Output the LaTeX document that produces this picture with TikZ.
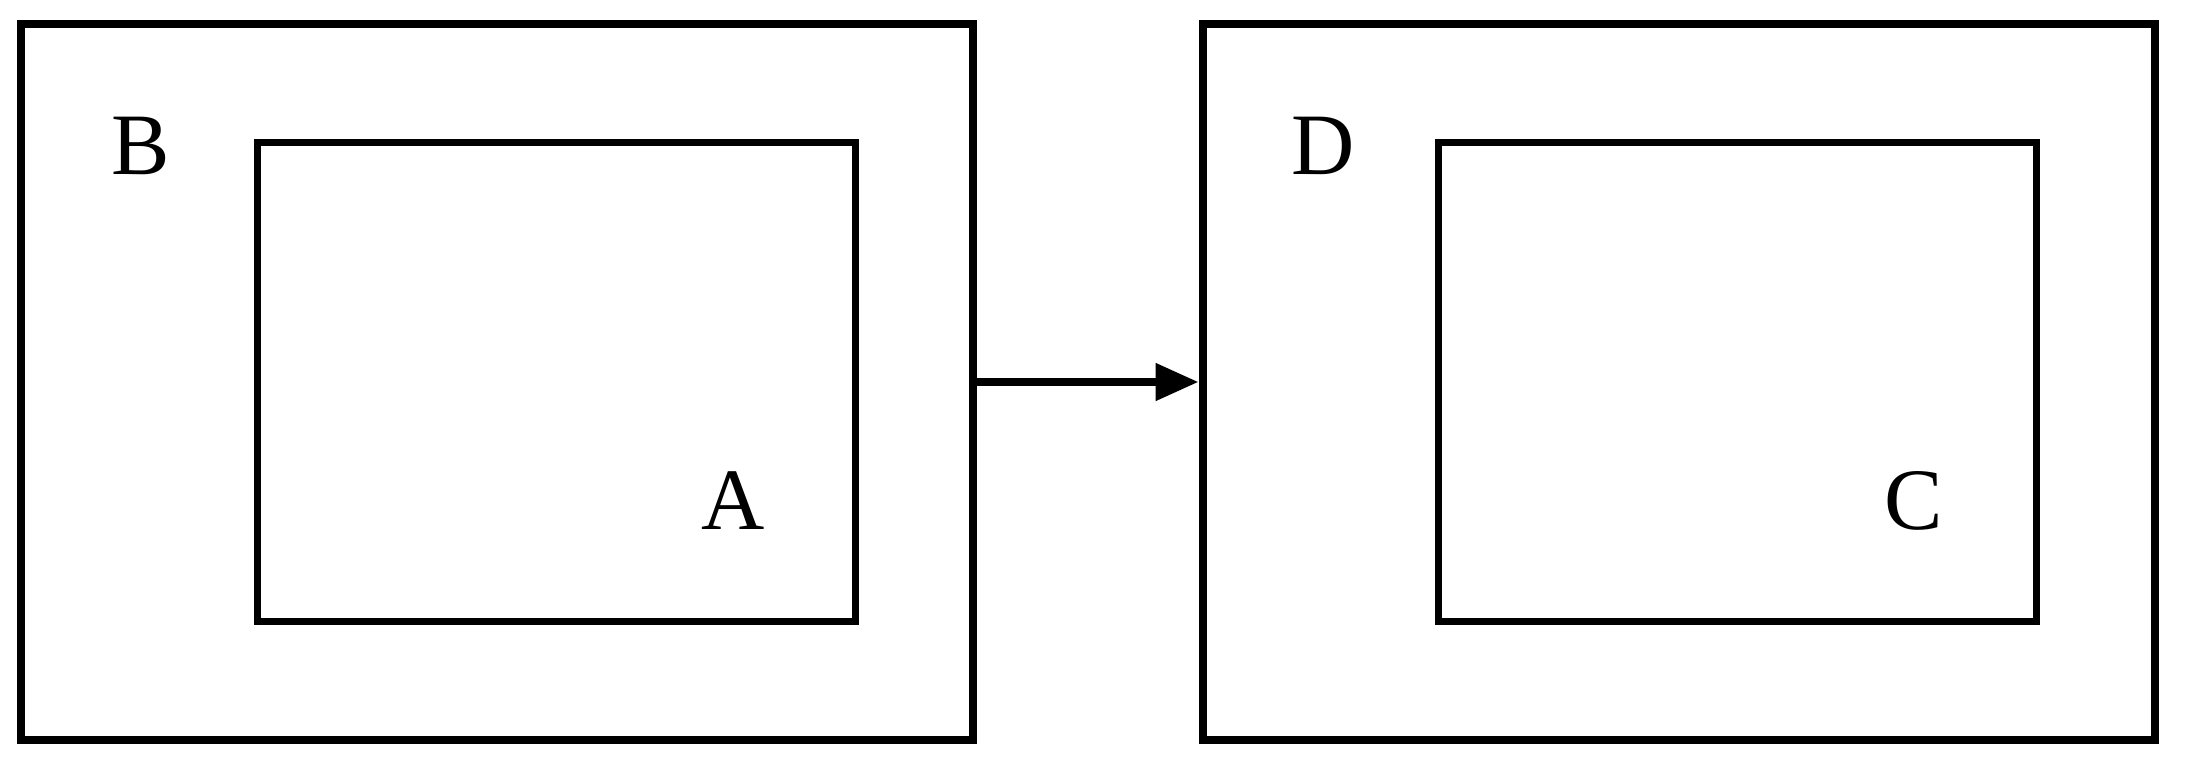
\documentclass[tikz,border=0pt]{standalone}
\usepackage{fontspec}
\setmainfont{Liberation Serif}
\usetikzlibrary{arrows.meta}
\begin{document}
\begin{tikzpicture}[x=0.5pt,y=-0.5pt,
  outerbox/.style={draw,line width=4pt,inner sep=0pt,minimum width=476pt,minimum height=358pt},
  innerbox/.style={draw,line width=3.5pt,inner sep=0pt,minimum width=299pt,minimum height=239.5pt},
  lbl/.style={font=\fontsize{43.8}{52}\selectfont,inner sep=0pt,anchor=base}]
\useasboundingbox (0,0) rectangle (2190,771);
\node[outerbox] (B) at (497,382) {};
\node[innerbox] (A) at (556,381.5) {};
\node[outerbox] (D) at (1678.5,382) {};
\node[innerbox] (C) at (1737.5,381.5) {};
\node[lbl] (lB) at (141,174) {B};
\node[lbl] (lD) at (1323,174) {D};
\node[lbl] (lA) at (733,529) {A};
\node[lbl] (lC) at (1914,529) {C};
\draw[line width=4pt,-{Triangle[length=21.5pt,width=18pt]}] (B.east) -- (D.west);
\end{tikzpicture}
\end{document}
